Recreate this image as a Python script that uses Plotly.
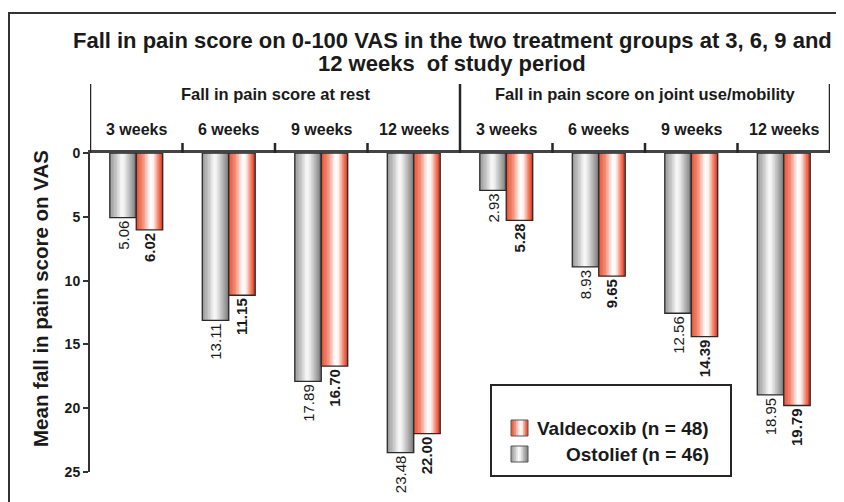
import plotly.graph_objects as go

# data
weeks = ["3 weeks", "6 weeks", "9 weeks", "12 weeks"]
groups = ["Fall in pain score at rest", "Fall in pain score on joint use/mobility"]
ostolief = [5.06, 13.11, 17.89, 23.48, 2.93, 8.93, 12.56, 18.95]
valdecoxib = [6.02, 11.15, 16.70, 22.00, 5.28, 9.65, 14.39, 19.79]
yticks = [0, 5, 10, 15, 20, 25]

xs = list(range(len(ostolief)))
week_labels = weeks * len(groups)

BAR_W = 0.286
NSLICE = 18
FONT = "Liberation Sans, Arial"

gray_stops = [(0, (150, 150, 150)), (0.25, (200, 200, 200)), (0.45, (250, 250, 250)),
              (0.55, (238, 238, 238)), (1, (120, 120, 120))]
red_stops = [(0, (232, 78, 48)), (0.25, (242, 140, 118)), (0.52, (255, 255, 255)),
             (0.65, (255, 242, 238)), (0.85, (240, 120, 95)), (1, (222, 56, 32))]


def grad(stops, t):
    for (t0, c0), (t1, c1) in zip(stops, stops[1:]):
        if t <= t1:
            f = (t - t0) / (t1 - t0) if t1 > t0 else 0
            c = [round(a + (b - a) * f) for a, b in zip(c0, c1)]
            return "rgb(%d,%d,%d)" % tuple(c)
    return "rgb(%d,%d,%d)" % stops[-1][1]


# plot area sits at 90..830 x 153..472 in the page
def px(x):
    return (x - 90) / 740


def py(y):
    return (472 - y) / 319


fig = go.Figure()


def add_series(vals, base, stops, name, bold):
    sw = BAR_W / NSLICE
    for k in range(NSLICE):
        t = (k + 0.5) / NSLICE
        w = sw * 1.4 if k < NSLICE - 1 else sw
        fig.add_trace(go.Bar(
            x=xs, y=vals, offset=base + k * sw, width=w,
            marker=dict(color=grad(stops, t), line=dict(width=0)),
            showlegend=False, hoverinfo="skip"))
    fig.add_trace(go.Bar(
        x=xs, y=vals, offset=base, width=BAR_W, name=name,
        marker=dict(color="rgba(0,0,0,0)", line=dict(color="#2a2a2a", width=1.3)),
        text=["%.2f" % v for v in vals], textposition="outside", textangle=-90,
        constraintext="none", cliponaxis=False,
        textfont=dict(family=FONT, size=15, color="#1a1a1a",
                      weight="bold" if bold else "normal"),
        showlegend=False))


add_series(ostolief, -BAR_W, gray_stops, "Ostolief (n = 46)", False)
add_series(valdecoxib, 0, red_stops, "Valdecoxib (n = 48)", True)

LW = "#262626"
shapes = []
# outer frame
shapes.append(dict(type="rect", xref="paper", yref="paper", x0=px(9), x1=1.2,
                   y0=-0.3, y1=py(13), line=dict(color="#333", width=2)))
# header separators
for xv in [-0.5, len(weeks) - 0.5, len(xs) - 0.5]:
    shapes.append(dict(type="line", xref="x", yref="paper", x0=xv, x1=xv, y0=1.0, y1=py(84),
                       line=dict(color=LW, width=2.5)))
for i in range(len(xs) - 1):
    if i + 1 == len(weeks):
        continue
    shapes.append(dict(type="line", xref="x", yref="paper", x0=i + 0.5, x1=i + 0.5,
                       y0=1.0, y1=py(143), line=dict(color=LW, width=2.5)))
# legend box
shapes.append(dict(type="rect", xref="paper", yref="paper", x0=px(491), x1=px(731),
                   y0=py(476), y1=py(385), line=dict(color=LW, width=2), fillcolor="white"))
# legend swatches
sw_x0, sw_x1 = px(511), px(528)
for stops, top, bot in [(red_stops, 420, 436), (gray_stops, 446, 462)]:
    n = 10
    for k in range(n):
        t = (k + 0.5) / n
        a = sw_x0 + (sw_x1 - sw_x0) * k / n
        b = sw_x0 + (sw_x1 - sw_x0) * (k + 1.3) / n if k < n - 1 else sw_x1
        shapes.append(dict(type="rect", xref="paper", yref="paper", x0=a, x1=b,
                           y0=py(bot), y1=py(top), line=dict(width=0), fillcolor=grad(stops, t)))
    shapes.append(dict(type="rect", xref="paper", yref="paper", x0=sw_x0, x1=sw_x1,
                       y0=py(bot), y1=py(top), line=dict(color="#555", width=1)))

ann = []
TXT = "#1a1a1a"
for line, yy in [("Fall in pain score on 0-100 VAS in the two treatment groups at 3, 6, 9 and", 40),
                 ("12 weeks  of study period", 63)]:
    ann.append(dict(text="<b>%s</b>" % line, xref="paper", yref="paper", x=px(452), y=py(yy),
                    xanchor="center", yanchor="middle", showarrow=False,
                    font=dict(family=FONT, size=22, color=TXT)))
for g, name in enumerate(groups):
    ann.append(dict(text="<b>%s</b>" % name, xref="x", yref="paper",
                    x=g * len(weeks) + (len(weeks) - 1) / 2, y=py(94),
                    xanchor="center", yanchor="middle", showarrow=False,
                    font=dict(family=FONT, size=16.5, color=TXT)))
for i, lab in zip(xs, week_labels):
    ann.append(dict(text="<b>%s</b>" % lab, xref="x", yref="paper", x=i, y=py(129),
                    xanchor="center", yanchor="middle", showarrow=False,
                    font=dict(family=FONT, size=16, color=TXT)))
ann.append(dict(text="<b>Mean fall in pain score on VAS</b>", xref="paper", yref="paper",
                x=px(40), y=py(299), textangle=-90, xanchor="center", yanchor="middle",
                showarrow=False, font=dict(family=FONT, size=20.5, color=TXT)))
for label, yy in [("Valdecoxib (n = 48)", 428), ("Ostolief (n = 46)", 454)]:
    ann.append(dict(text="<b>%s</b>" % label, xref="paper", yref="paper",
                    x=px(711), y=py(yy), xanchor="right", yanchor="middle",
                    showarrow=False, font=dict(family=FONT, size=19, color=TXT)))

fig.update_layout(
    width=836, height=494,
    margin=dict(l=82, r=14, t=145, b=30),
    barmode="overlay",
    plot_bgcolor="white", paper_bgcolor="white",
    shapes=shapes, annotations=ann,
    xaxis=dict(range=[-0.5, len(xs) - 0.5], side="top", showticklabels=False, ticks="",
               showgrid=False, zeroline=False, showline=True, linecolor="#444", linewidth=2.5),
    yaxis=dict(range=[25, 0], tickvals=yticks, ticks="outside", ticklen=5, tickwidth=2,
               tickcolor="#333", showgrid=False, zeroline=False, showline=True,
               linecolor="#333", linewidth=2,
               tickfont=dict(family=FONT, size=14, color=TXT, weight="bold")),
)

fig.write_html("out.html")
